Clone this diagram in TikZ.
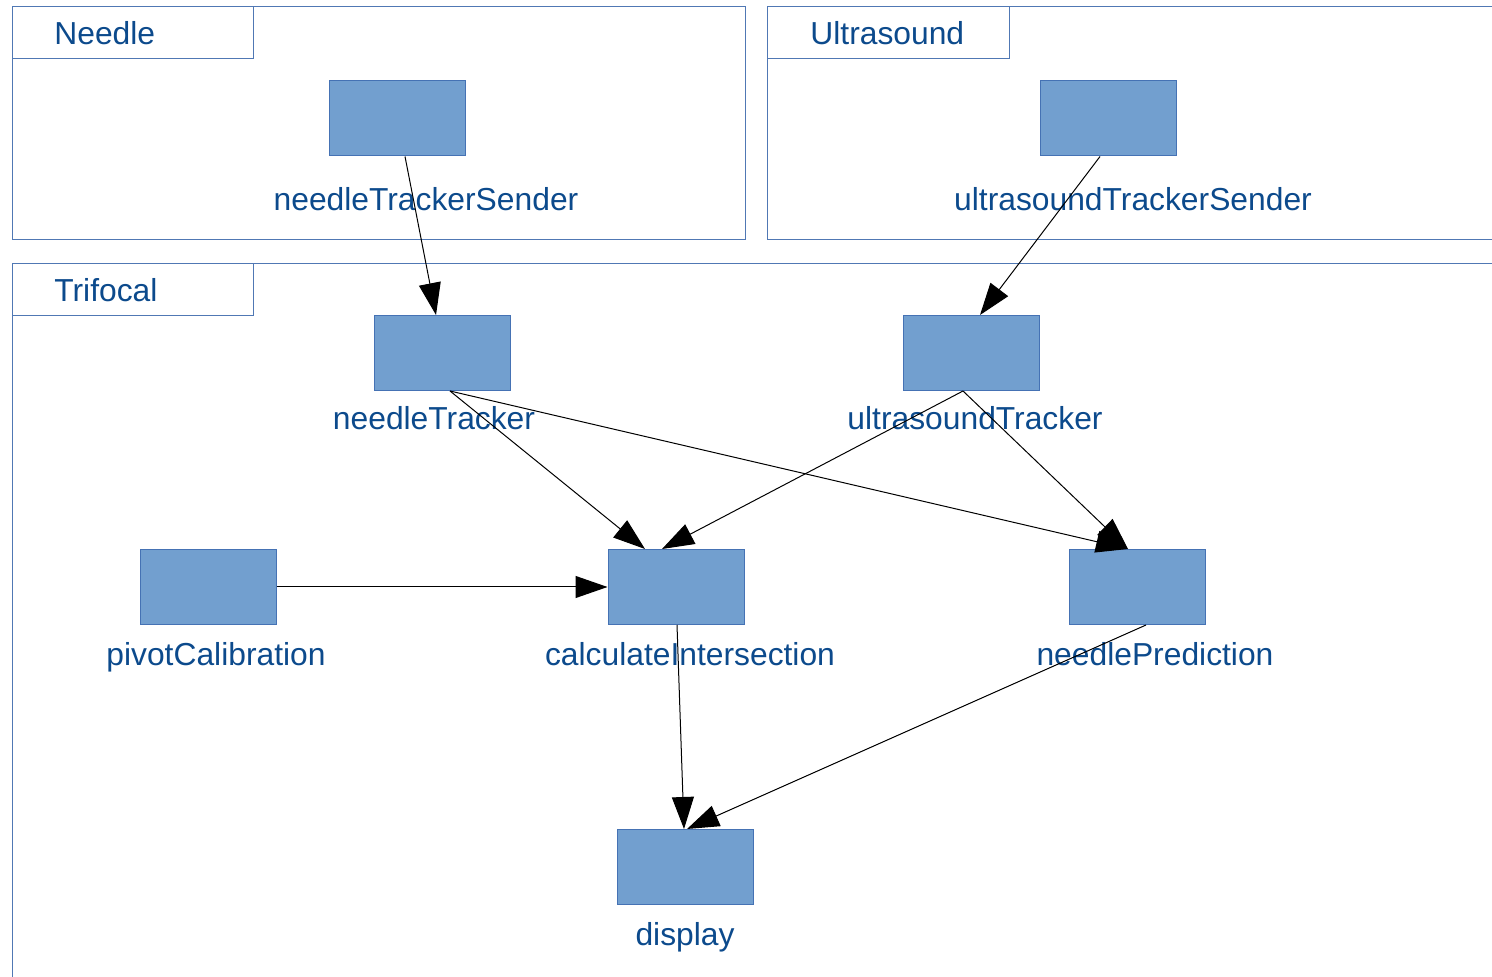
\documentclass[tikz,border=0pt]{standalone}
\usepackage{fontspec}
\setmainfont{Liberation Sans}
\usetikzlibrary{arrows.meta,calc}
\definecolor{framecol}{RGB}{80,120,180}
\definecolor{boxfill}{RGB}{114,159,207}
\definecolor{boxline}{RGB}{69,114,180}
\definecolor{txtcol}{RGB}{12,74,140}
\begin{document}
\begin{tikzpicture}[x=0.5pt,y=-0.5pt,
  frame/.style={draw=framecol,line width=0.45pt},
  comp/.style={draw=boxline,fill=boxfill,line width=0.5pt,minimum width=68pt,minimum height=37.5pt,inner sep=0pt},
  lbl/.style={text=txtcol,font=\fontsize{15.9}{19}\selectfont,anchor=base,inner sep=0pt},
  tablbl/.style={text=txtcol,font=\fontsize{15.9}{19}\selectfont,anchor=base west,inner sep=0pt},
  conn/.style={draw=black,line width=0.5pt,-{Triangle[length=16pt,width=11pt]}}]
\useasboundingbox (0,0) rectangle (1492,977);
\clip (0,0) rectangle (1492,977);
% frames
\draw[frame] (12,6) rectangle (745,239);
\draw[frame] (12,6) rectangle (253,58);
\node[tablbl] (tneedle) at (54,45) {Needle};
\draw[frame] (767,6) rectangle (1510,239);
\draw[frame] (767,6) rectangle (1009,58);
\node[tablbl] (tultra) at (810,45) {Ultrasound};
\draw[frame] (12,263) rectangle (1510,1000);
\draw[frame] (12,263) rectangle (253,315);
\node[tablbl] (ttrif) at (54,302) {Trifocal};
% components
\node[comp] (nts) at (397,118.5) {};
\node[lbl] (ntsl) at (426,211) {needleTrackerSender};
\node[comp] (uts) at (1108,118.5) {};
\node[lbl] (utsl) at (1133,211) {ultrasoundTrackerSender};
\node[comp] (nt) at (442,353) {};
\node[lbl] (ntl) at (434,430) {needleTracker};
\node[comp] (ut) at (971,353) {};
\node[lbl] (utl) at (975,430) {ultrasoundTracker};
\node[comp] (pc) at (208,587) {};
\node[lbl] (pcl) at (216,665) {pivotCalibration};
\node[comp] (ci) at (676,587) {};
\node[lbl] (cil) at (690,665) {calculateIntersection};
\node[comp] (np) at (1137,587) {};
\node[lbl] (npl) at (1155,665) {needlePrediction};
\node[comp] (disp) at (685,867) {};
\node[lbl] (displ) at (685,945) {display};
% connectors
\draw[conn] ($(nts.south)+(8,0)$) -- ($(nt.north)+(-6,0)$);
\draw[conn] ($(uts.south)+(-8,0)$) -- ($(ut.north)+(9,0)$);
\draw[conn] ($(nt.south)+(8,0)$) -- ($(ci.north)+(-31,0)$);
\draw[conn] ($(nt.south)+(8,0)$) -- ($(np.north)+(-9,0)$);
\draw[conn] ($(ut.south)+(-8,0)$) -- ($(ci.north)+(-14,0)$);
\draw[conn] ($(ut.south)+(-8,0)$) -- ($(np.north)+(-9,0)$);
\draw[conn] (pc.east) -- (ci.west);
\draw[conn] ($(ci.south)+(1,0)$) -- ($(disp.north)+(-1,0)$);
\draw[conn] ($(np.south)+(9,0)$) -- ($(disp.north)+(2,0)$);
\end{tikzpicture}
\end{document}
